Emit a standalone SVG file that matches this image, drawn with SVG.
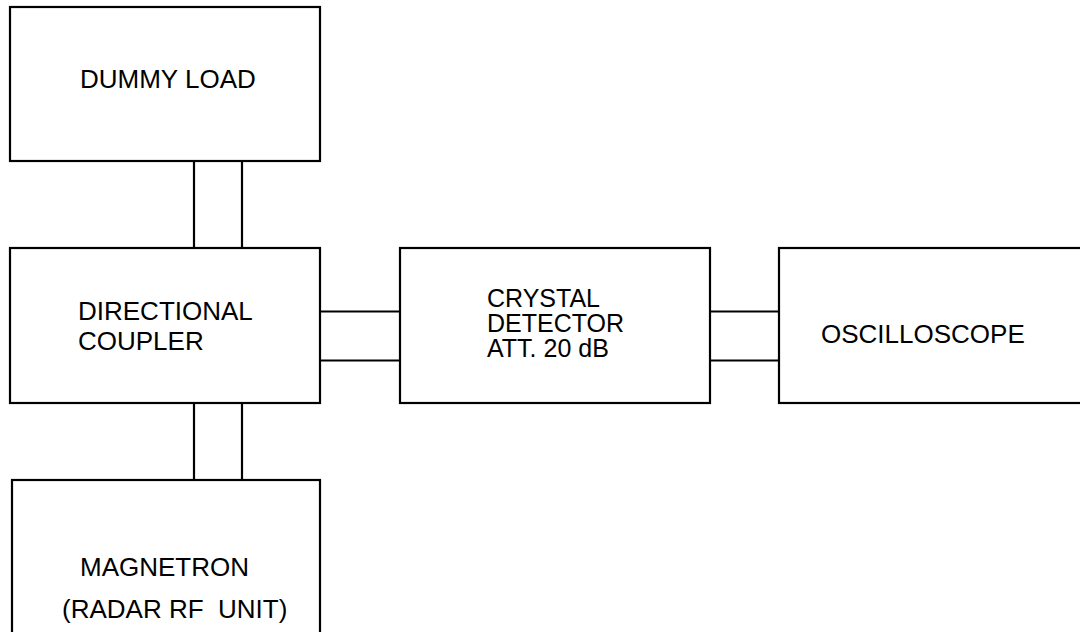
<svg xmlns="http://www.w3.org/2000/svg" width="1080" height="632" viewBox="0 0 1080 632">
<style>
.box{fill:#fff;stroke:#000;stroke-width:2.2}
.ln{stroke:#000;stroke-width:2.2;fill:none}
text{font-family:"Liberation Sans",Arial,sans-serif;font-size:26px;fill:#000;white-space:pre}
.tight{font-size:25px}
</style>
<rect width="1080" height="632" fill="#fff"/>
<g id="connectors">
<line class="ln" x1="194" y1="161" x2="194" y2="248"/>
<line class="ln" x1="242" y1="161" x2="242" y2="248"/>
<line class="ln" x1="194" y1="403" x2="194" y2="480"/>
<line class="ln" x1="242" y1="403" x2="242" y2="480"/>
<line class="ln" x1="320" y1="311.5" x2="400" y2="311.5"/>
<line class="ln" x1="320" y1="360.5" x2="400" y2="360.5"/>
<line class="ln" x1="710" y1="311.5" x2="779" y2="311.5"/>
<line class="ln" x1="710" y1="360.5" x2="779" y2="360.5"/>
</g>
<g id="dummy-load">
<rect class="box" x="10" y="7" width="310" height="154"/>
<text x="80" y="88">DUMMY LOAD</text>
</g>
<g id="directional-coupler">
<rect class="box" x="10" y="248" width="310" height="155"/>
<text x="78" y="319.5">DIRECTIONAL</text>
<text x="78" y="350">COUPLER</text>
</g>
<g id="crystal-detector">
<rect class="box" x="400" y="248" width="310" height="155"/>
<text class="tight" x="487" y="307">CRYSTAL</text>
<text class="tight" x="487" y="332">DETECTOR</text>
<text class="tight" x="487" y="357">ATT. 20 dB</text>
</g>
<g id="oscilloscope">
<rect class="box" x="779" y="248" width="310" height="155"/>
<text x="821" y="343">OSCILLOSCOPE</text>
</g>
<g id="magnetron">
<rect class="box" x="12" y="480" width="308" height="170"/>
<text x="80" y="576">MAGNETRON</text>
<text x="62" y="618">(RADAR RF  UNIT)</text>
</g>
</svg>
